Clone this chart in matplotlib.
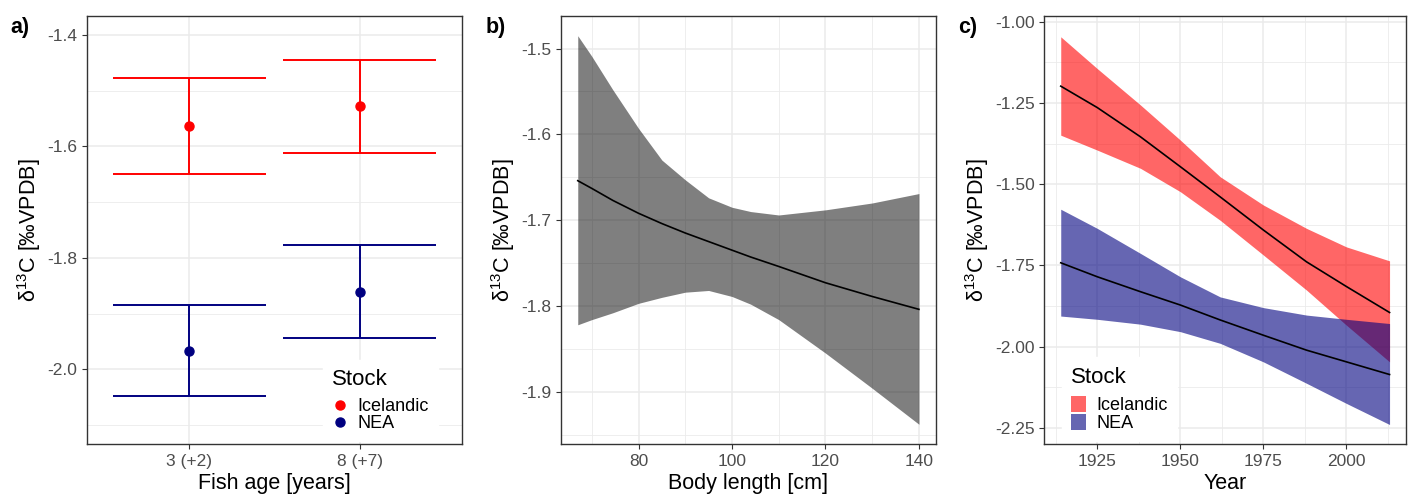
import matplotlib
matplotlib.use("Agg")
import matplotlib.pyplot as plt
from matplotlib.lines import Line2D
from matplotlib.patches import Patch

plt.rcParams['font.family'] = ['Liberation Sans', 'DejaVu Sans']
plt.rcParams['mathtext.fontset'] = 'custom'
plt.rcParams['mathtext.rm'] = 'Liberation Sans'
plt.rcParams['mathtext.it'] = 'Liberation Sans:italic'

# colors
red = '#FF0000'
navy = '#000080'
grid_c = '#EBEBEB'
tick_c = '#4D4D4D'
frame_c = '#333333'

# a) age classes
ages = ['3 (+2)', '8 (+7)']
icel_mean = [-1.564, -1.528]
icel_lo = [-1.649, -1.612]
icel_hi = [-1.478, -1.445]
nea_mean = [-1.967, -1.861]
nea_lo = [-2.048, -1.943]
nea_hi = [-1.885, -1.777]

# b) body length
length = [67, 70, 74.5, 80, 85, 90, 95, 100, 104, 110, 120, 130, 140]
len_fit = [-1.654, -1.663, -1.677, -1.692, -1.704, -1.715, -1.725, -1.735, -1.743, -1.754, -1.773, -1.789, -1.804]
len_hi = [-1.485, -1.509, -1.548, -1.593, -1.630, -1.653, -1.674, -1.685, -1.690, -1.694, -1.688, -1.680, -1.669]
len_lo = [-1.822, -1.816, -1.808, -1.797, -1.790, -1.784, -1.782, -1.789, -1.798, -1.816, -1.855, -1.896, -1.938]

# c) year
year = [1914, 1925, 1938, 1950, 1962, 1975, 1988, 2000, 2013]
icel_fit = [-1.198, -1.264, -1.354, -1.446, -1.539, -1.641, -1.739, -1.815, -1.895]
icel_up = [-1.046, -1.144, -1.256, -1.364, -1.477, -1.564, -1.636, -1.693, -1.736]
icel_dn = [-1.349, -1.395, -1.451, -1.523, -1.611, -1.718, -1.826, -1.934, -2.047]
nea_fit = [-1.742, -1.785, -1.831, -1.872, -1.918, -1.965, -2.011, -2.047, -2.086]
nea_up = [-1.577, -1.636, -1.713, -1.785, -1.847, -1.880, -1.903, -1.916, -1.929]
nea_dn = [-1.906, -1.916, -1.931, -1.954, -1.990, -2.047, -2.113, -2.175, -2.240]

ylab = r'δ$^{13}$C [‰VPDB]'


def style_ax(ax, xmajor, xminor, ymajor, yminor):
    ax.set_xticks(xmajor)
    ax.set_xticks(xminor, minor=True)
    ax.set_yticks(ymajor)
    ax.set_yticks(yminor, minor=True)
    ax.grid(True, which='major', color=grid_c, lw=1.1)
    ax.grid(True, which='minor', color=grid_c, lw=0.6)
    ax.set_axisbelow(True)
    for s in ax.spines.values():
        s.set_color(frame_c)
        s.set_linewidth(1.0)
    ax.tick_params(which='major', length=3.5, color=frame_c, labelcolor=tick_c, labelsize=12.5)
    ax.tick_params(which='minor', length=0)


def make_legend(ax, handles, loc, anchor, hh):
    leg = ax.legend(handles, ['Icelandic', 'NEA'], title='Stock', loc=loc,
                    bbox_to_anchor=anchor, frameon=True, fancybox=False,
                    edgecolor='white', framealpha=1, fontsize=13, title_fontsize=16,
                    alignment='left', handlelength=0.8, handleheight=hh, handletextpad=0.6,
                    labelspacing=0.0, borderpad=0.5)
    leg._legend_box.sep = 6
    return leg


fig = plt.figure(figsize=(14.16, 4.97), dpi=100)
H = 497.0
W = 1416.0
bot = (H - 444) / H
hgt = 428 / H
ax1 = fig.add_axes([87 / W, bot, 375 / W, hgt])
ax2 = fig.add_axes([560.7 / W, bot, 375.3 / W, hgt])
ax3 = fig.add_axes([1044.3 / W, bot, 361.7 / W, hgt])

# ---- a)
pos = [1, 2]
hw = 0.45
for m, lo, hi, c in [(icel_mean, icel_lo, icel_hi, red), (nea_mean, nea_lo, nea_hi, navy)]:
    ax1.vlines(pos, lo, hi, color=c, lw=1.4)
    ax1.hlines(lo, [p - hw for p in pos], [p + hw for p in pos], color=c, lw=1.4)
    ax1.hlines(hi, [p - hw for p in pos], [p + hw for p in pos], color=c, lw=1.4)
    ax1.plot(pos, m, 'o', color=c, ms=6.5, zorder=3)
ax1.set_xlim(0.4, 2.6)
ax1.set_ylim(-2.134, -1.366)
style_ax(ax1, pos, [], [-2.0, -1.8, -1.6, -1.4], [-2.1, -1.9, -1.7, -1.5])
ax1.set_xticklabels(ages)
ax1.set_yticklabels(['-2.0', '-1.8', '-1.6', '-1.4'])
ax1.set_xlabel('Fish age [years]', fontsize=15.5, labelpad=3)
ax1.set_ylabel(ylab, fontsize=15.5, labelpad=3)
h1 = [Line2D([], [], marker='o', ls='', color=red, ms=6.5),
      Line2D([], [], marker='o', ls='', color=navy, ms=6.5)]
make_legend(ax1, h1, 'lower right', (0.96, -0.015), 0.7)

# ---- b)
ax2.fill_between(length, len_lo, len_hi, color='black', alpha=0.5, lw=0)
ax2.plot(length, len_fit, color='black', lw=1.2)
ax2.set_xlim(63.35, 143.65)
ax2.set_ylim(-1.961, -1.462)
style_ax(ax2, [80, 100, 120, 140], [70, 90, 110, 130],
         [-1.9, -1.8, -1.7, -1.6, -1.5], [-1.95, -1.85, -1.75, -1.65, -1.55])
ax2.set_yticklabels(['-1.9', '-1.8', '-1.7', '-1.6', '-1.5'])
ax2.set_xlabel('Body length [cm]', fontsize=15.5, labelpad=3)
ax2.set_ylabel(ylab, fontsize=15.5, labelpad=3)

# ---- c)
ax3.fill_between(year, icel_dn, icel_up, color=red, alpha=0.6, lw=0)
ax3.fill_between(year, nea_dn, nea_up, color=navy, alpha=0.6, lw=0)
ax3.plot(year, icel_fit, color='black', lw=1.2)
ax3.plot(year, nea_fit, color='black', lw=1.2)
ax3.set_xlim(1909.05, 2017.95)
ax3.set_ylim(-2.300, -0.982)
style_ax(ax3, [1925, 1950, 1975, 2000], [1912.5, 1937.5, 1962.5, 1987.5, 2012.5],
         [-2.25, -2.0, -1.75, -1.5, -1.25, -1.0], [-2.125, -1.875, -1.625, -1.375, -1.125])
ax3.set_yticklabels(['-2.25', '-2.00', '-1.75', '-1.50', '-1.25', '-1.00'])
ax3.set_xlabel('Year', fontsize=15.5, labelpad=3)
ax3.set_ylabel(ylab, fontsize=15.5, labelpad=3)
h3 = [Patch(facecolor=red, alpha=0.6, lw=0), Patch(facecolor=navy, alpha=0.6, lw=0)]
make_legend(ax3, h3, 'lower left', (0.025, -0.015), 1.0)

# panel labels
for x, lab in [(10, 'a)'), (486, 'b)'), (958, 'c)')]:
    fig.text(x / W, 1 - 28 / H, lab, fontsize=15.5, fontweight='bold', va='center', ha='left')

fig.savefig('out.png', dpi=100)
